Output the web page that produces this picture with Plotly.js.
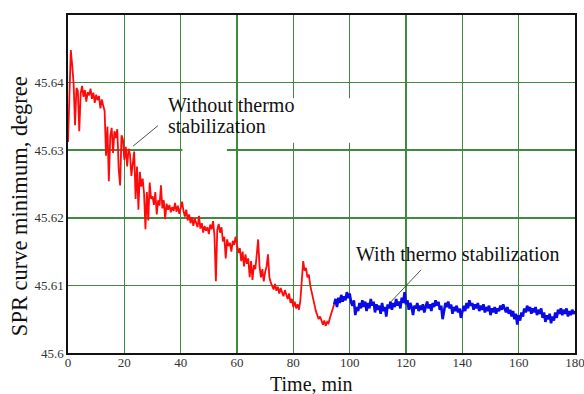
<!DOCTYPE html>
<html>
<head>
<meta charset="utf-8">
<script src="https://cdn.plot.ly/plotly-3.0.1.min.js"></script>
<style>
html,body{margin:0;padding:0;background:#fff;}
#chart{width:584px;height:394px;}
</style>
</head>
<body>
<div id="chart"></div>
<script>
// Time axis sampling (min)
const redStart = 0, blueStart = 94.5, sampleStep = 0.5;

// "Without thermo stabilization" series (degree), sampled every 0.5 min from 0
const redValues = [
45.6312,45.6400,45.6448,45.6425,45.6398,45.6337,45.6392,45.6388,45.6328,45.6384,
45.6395,45.6379,45.6389,45.6372,45.6386,45.6381,45.6391,45.6376,45.6385,45.6370,
45.6382,45.6374,45.6380,45.6362,45.6375,45.6366,45.6358,45.6292,45.6335,45.6254,
45.6320,45.6333,45.6296,45.6328,45.6318,45.6331,45.6272,45.6248,45.6322,45.6316,
45.6286,45.6305,45.6276,45.6302,45.6294,45.6262,45.6281,45.6298,45.6228,45.6276,
45.6212,45.6268,45.6246,45.6258,45.6236,45.6183,45.6238,45.6196,45.6252,45.6228,
45.6232,45.6219,45.6238,45.6205,45.6226,45.6218,45.6248,45.6214,45.6226,45.6198,
45.6221,45.6212,45.6219,45.6208,45.6216,45.6210,45.6222,45.6209,45.6218,45.6206,
45.6214,45.6224,45.6210,45.6202,45.6212,45.6196,45.6205,45.6192,45.6201,45.6188,
45.6199,45.6192,45.6186,45.6203,45.6184,45.6192,45.6178,45.6188,45.6181,45.6186,
45.6176,45.6190,45.6183,45.6195,45.6174,45.6106,45.6182,45.6191,45.6178,45.6186,
45.6165,45.6172,45.6140,45.6168,45.6158,45.6163,45.6150,45.6166,45.6160,45.6172,
45.6162,45.6148,45.6155,45.6136,45.6150,45.6128,45.6146,45.6132,45.6140,45.6112,
45.6136,45.6108,45.6130,45.6124,45.6145,45.6168,45.6128,45.6112,45.6124,45.6106,
45.6120,45.6128,45.6146,45.6112,45.6104,45.6100,45.6094,45.6102,45.6092,45.6098,
45.6088,45.6096,45.6090,45.6084,45.6093,45.6086,45.6080,45.6088,45.6074,45.6080,
45.6068,45.6076,45.6066,45.6072,45.6064,45.6078,45.6106,45.6136,45.6122,45.6126,
45.6112,45.6116,45.6100,45.6090,45.6082,45.6070,45.6062,45.6056,45.6050,45.6054,
45.6046,45.6042,45.6048,45.6040,45.6046,45.6044,45.6052,45.6060,45.6066,45.6072
];

// "With thermo stabilization" series (degree), sampled every 0.5 min from 94.5
const blueValues = [
45.6072,45.6080,45.6068,45.6082,45.6074,45.6086,45.6076,45.6084,45.6078,45.6090,
45.6081,45.6088,45.6075,45.6070,45.6078,45.6056,45.6068,45.6062,45.6074,45.6066,
45.6078,45.6068,45.6076,45.6062,45.6074,45.6066,45.6080,45.6070,45.6076,45.6060,
45.6072,45.6064,45.6070,45.6058,45.6074,45.6062,45.6068,45.6054,45.6072,45.6066,
45.6076,45.6064,45.6074,45.6068,45.6080,45.6070,45.6076,45.6066,45.6082,45.6074,
45.6090,45.6072,45.6078,45.6064,45.6074,45.6068,45.6056,45.6070,45.6066,45.6074,
45.6062,45.6070,45.6064,45.6072,45.6060,45.6068,45.6076,45.6066,45.6072,45.6062,
45.6074,45.6068,45.6078,45.6070,45.6076,45.6064,45.6070,45.6050,45.6066,45.6074,
45.6068,45.6076,45.6066,45.6072,45.6058,45.6068,45.6062,45.6070,45.6060,45.6066,
45.6052,45.6064,45.6070,45.6062,45.6074,45.6066,45.6078,45.6070,45.6074,45.6064,
45.6072,45.6066,45.6074,45.6062,45.6070,45.6064,45.6072,45.6060,45.6068,45.6062,
45.6070,45.6056,45.6066,45.6060,45.6068,45.6058,45.6066,45.6062,45.6070,45.6064,
45.6072,45.6066,45.6060,45.6068,45.6058,45.6064,45.6054,45.6062,45.6050,45.6058,
45.6042,45.6056,45.6048,45.6060,45.6054,45.6066,45.6060,45.6070,45.6062,45.6068,
45.6058,45.6066,45.6060,45.6068,45.6056,45.6064,45.6058,45.6066,45.6052,45.6060,
45.6046,45.6056,45.6050,45.6058,45.6044,45.6054,45.6048,45.6060,45.6052,45.6064,
45.6058,45.6066,45.6056,45.6064,45.6058,45.6066,45.6054,45.6062,45.6056,45.6064,
45.6058,45.6062
];

const xTickVals = [0,20,40,60,80,100,120,140,160,180];
const xTickText = ['0','20','40','60','80','100','120','140','160','180'];
const yTickVals = [45.6,45.61,45.62,45.63,45.64];
const yTickText = ['45.6','45.61','45.62','45.63','45.64'];

const xTitle = 'Time, min';
const yTitle = 'SPR curve minimum, degree';
const label1a = 'Without thermo';
const label1b = 'stabilization';
const label2 = 'With thermo stabilization';

const fam = 'Liberation Serif';
const gridCol = '#3f8a3f';

const traces = [
  {type:'scatter', mode:'lines', x0:redStart, dx:sampleStep, y:redValues,
   line:{color:'#ff0a0a', width:1.8}},
  {type:'scatter', mode:'lines', x0:blueStart, dx:sampleStep, y:blueValues,
   line:{color:'#0a0ae6', width:2.6}}
];

const layout = {
  width:584, height:394,
  margin:{l:68, r:9, t:15, b:41},
  showlegend:false,
  xaxis:{range:[0,180], tickvals:xTickVals, ticktext:xTickText,
    showgrid:true, gridcolor:gridCol, gridwidth:1.6, zeroline:false,
    showline:true, mirror:true, linecolor:'#111', linewidth:1.6,
    ticks:'', ticklabeloverflow:'allow', ticklabelstandoff:-3,
    tickfont:{family:fam, size:13, color:'#333'}},
  yaxis:{range:[45.6,45.65], tickvals:yTickVals, ticktext:yTickText,
    showgrid:true, gridcolor:gridCol, gridwidth:1.6, zeroline:false,
    showline:true, mirror:true, linecolor:'#111', linewidth:1.6,
    ticks:'', tickfont:{family:fam, size:13, color:'#333'}},
  shapes:[
    {type:'rect', layer:'between', xref:'x', yref:'y', x0:78, x1:102, y0:45.6311, y1:45.6377,
     fillcolor:'#fff', line:{width:0}},
    {type:'rect', layer:'between', xref:'x', yref:'y', x0:40.6, x1:56.4, y0:45.6297, y1:45.6303,
     fillcolor:'#fff', line:{width:0}}
  ],
  annotations:[
    {xref:'paper', yref:'paper', x:0.481, y:-0.092, text:xTitle, showarrow:false,
     xanchor:'center', yanchor:'middle', font:{family:fam, size:20, color:'#111'}},
    {xref:'paper', yref:'paper', x:-0.097, y:0.434, text:yTitle, showarrow:false, textangle:-90,
     xanchor:'center', yanchor:'middle', font:{family:fam, size:22.5, color:'#111'}},
    {xref:'x', yref:'y', x:34.7, y:45.6367, text:label1a, showarrow:false,
     xanchor:'left', yanchor:'middle', font:{family:fam, size:20, color:'#111'}},
    {xref:'x', yref:'y', x:34.7, y:45.6336, text:label1b, showarrow:false,
     xanchor:'left', yanchor:'middle', font:{family:fam, size:20, color:'#111'}},
    {xref:'x', yref:'y', x:23.1, y:45.6306, ax:28, ay:-23, text:' ', showarrow:true,
     arrowhead:0, arrowwidth:0.8, arrowcolor:'#222'},
    {xref:'x', yref:'y', x:101.5, y:45.6146, text:label2, showarrow:false,
     xanchor:'left', yanchor:'middle', font:{family:fam, size:20, color:'#111'}},
    {xref:'x', yref:'y', x:114.7, y:45.6076, ax:33, ay:-35, text:' ', showarrow:true,
     arrowhead:0, arrowwidth:0.8, arrowcolor:'#222'}
  ]
};

Plotly.newPlot('chart', traces, layout, {staticPlot:true});
</script>
</body>
</html>
